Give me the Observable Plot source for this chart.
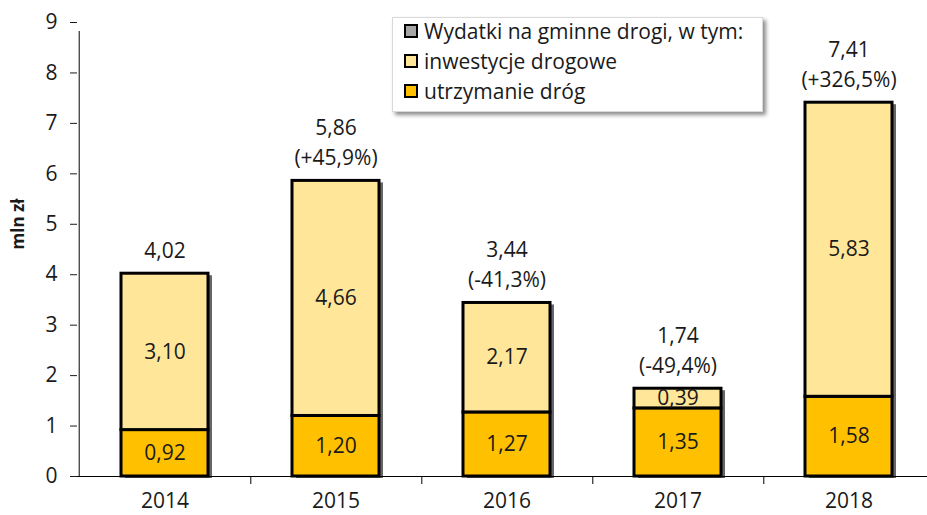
<!DOCTYPE html>
<html>
<head>
<meta charset="utf-8">
<script src="https://cdn.jsdelivr.net/npm/d3@7"></script>
<script src="https://cdn.jsdelivr.net/npm/@observablehq/plot@0.6"></script>
<style>
  html, body { margin: 0; padding: 0; background: #fff; overflow: hidden; }
  #wrap { position: relative; width: 927px; height: 515px; font-family: "Open Sans", sans-serif; }
  #legend { position: absolute; left: 392px; top: 17px; width: 371px; height: 95px; background: #fff;
    border: 1px solid #d9d9d9; box-shadow: 3px 3px 4px rgba(0,0,0,0.45); box-sizing: border-box; }
  .row { position: absolute; left: 11px; display: flex; align-items: center; font-size: 21px; color: #1a1a1a; white-space: nowrap; }
  .sw { width: 10px; height: 10px; border: 2px solid #000; margin-right: 6px; }
</style>
</head>
<body>
<div id="wrap"></div>
<script>
const years = ["2014", "2015", "2016", "2017", "2018"];
const utrzymanie = [0.92, 1.20, 1.27, 1.35, 1.58];
const inwestycje = [3.10, 4.66, 2.17, 0.39, 5.83];
const totals = [4.02, 5.86, 3.44, 1.74, 7.41];
const changes = ["", "(+45,9%)", "(-41,3%)", "(-49,4%)", "(+326,5%)"];
const seriesNames = ["utrzymanie dróg", "inwestycje drogowe"];
const legendNames = ["Wydatki na gminne drogi, w tym:", "inwestycje drogowe", "utrzymanie dróg"];
const legendColors = ["#a6a6a6", "#ffe699", "#ffc000"];
const yTicks = [0, 1, 2, 3, 4, 5, 6, 7, 8, 9];

const fmt = v => v.toFixed(2).replace(".", ",");

const long = [];
years.forEach((y, i) => {
  long.push({year: y, series: seriesNames[0], value: utrzymanie[i]});
  long.push({year: y, series: seriesNames[1], value: inwestycje[i]});
});
const tot = years.map((y, i) => ({year: y, total: totals[i], label: changes[i] ? fmt(totals[i]) + "\n" + changes[i] : fmt(totals[i])}));

const X0 = 78, X1 = 936;
const step = (X1 - X0) / years.length;

const chart = Plot.plot({
  width: 927,
  height: 515,
  marginLeft: 77,
  marginRight: 0,
  marginTop: 22,
  marginBottom: 39,
  style: {fontFamily: "Open Sans, sans-serif", fontSize: "21px", color: "#1a1a1a", background: "#fff"},
  x: {domain: years, range: [X0, X1], paddingInner: 0.49, paddingOuter: 0.245},
  y: {domain: [0, 9]},
  color: {domain: seriesNames, range: ["#ffc000", "#ffe699"]},
  marks: [
    Plot.barY(tot, {x: "year", y: "total", fill: "#000", fillOpacity: 0.6, dx: 4, dy: 2, ariaLabel: "shadow"}),
    Plot.barY(long, {x: "year", y: "value", fill: "series", stroke: "#000", strokeWidth: 3, order: seriesNames}),
    Plot.text(long, Plot.stackY({x: "year", y: "value", z: "series", order: seriesNames, text: d => fmt(d.value), fill: "#1a1a1a", fontSize: 21})),
    Plot.text(tot, {x: "year", y: "total", text: "label", lineAnchor: "bottom", lineHeight: 1.42, dy: -16, fill: "#1a1a1a", fontSize: 21}),
    Plot.ruleY([0], {stroke: "#000", strokeWidth: 1}),
    Plot.ruleX([years[0]], {x: d => d, dx: -step / 2, y1: 0, y2: 9, insetBottom: -9, stroke: "#000", strokeWidth: 1}),
    Plot.ruleX(years, {x: d => d, dx: step / 2, y1: 0, y2: 0, insetBottom: -8, stroke: "#000", strokeWidth: 1}),
    Plot.axisY({ticks: yTicks, tickSize: 7, tickPadding: 13, label: null, fontSize: 21}),
    Plot.axisX({tickSize: 0, tickPadding: 17, label: null, fontSize: 21}),
    Plot.text(["mln zł"], {frameAnchor: "left", rotate: -90, dx: -59, fontWeight: "bold", fontSize: 17, fill: "#1a1a1a"})
  ]
});

const svg = d3.select(chart);
svg.style("overflow", "hidden");
const defs = svg.insert("defs", ":first-child");
defs.append("filter").attr("id", "blurShadow").attr("x", "-20%").attr("y", "-20%").attr("width", "150%").attr("height", "150%")
  .append("feGaussianBlur").attr("stdDeviation", 2.5);
svg.select('g[aria-label="shadow"]').attr("filter", "url(#blurShadow)");

const wrap = document.getElementById("wrap");
wrap.appendChild(chart);

const legend = document.createElement("div");
legend.id = "legend";
legendNames.forEach((name, i) => {
  const row = document.createElement("div");
  row.className = "row";
  row.style.top = (-1 + i * 30) + "px";
  const sw = document.createElement("div");
  sw.className = "sw";
  sw.style.background = legendColors[i];
  const t = document.createElement("span");
  t.textContent = name;
  row.appendChild(sw);
  row.appendChild(t);
  legend.appendChild(row);
});
wrap.appendChild(legend);
</script>
</body>
</html>
